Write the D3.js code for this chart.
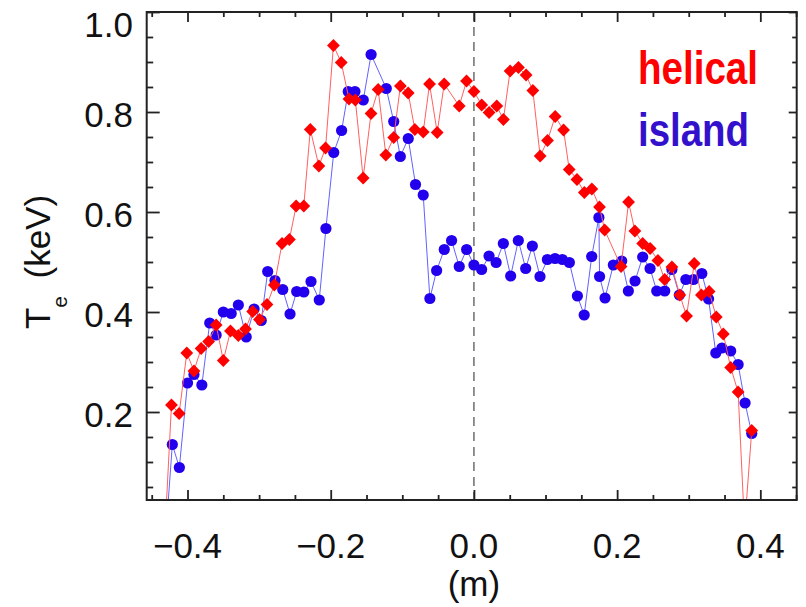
<!DOCTYPE html>
<html>
<head>
<meta charset="utf-8">
<script src="https://cdn.jsdelivr.net/npm/d3@7"></script>
<style>
  html, body { margin: 0; padding: 0; background: #fff; }
  svg { display: block; }
  text { font-family: "Liberation Sans", Arial, sans-serif; }
</style>
</head>
<body>
<div id="chart"></div>
<script>
// ---- data ----
const helicalR = [-0.4315, -0.4224, -0.4117, -0.401, -0.391, -0.381, -0.3705, -0.360, -0.350, -0.340,
  -0.329, -0.319, -0.309, -0.2995, -0.289, -0.2787, -0.268, -0.2577, -0.2483, -0.2376,
  -0.2285, -0.2165, -0.2072, -0.1962, -0.1853, -0.1745, -0.1656, -0.1547, -0.1437, -0.1337,
  -0.1230, -0.1120, -0.1027, -0.0918, -0.0825, -0.0708, -0.0620, -0.0513, -0.0415, -0.0205,
  -0.0103, 0.0, 0.0109, 0.0212, 0.0319, 0.0412, 0.0505, 0.0622, 0.0729, 0.0823,
  0.0925, 0.1028, 0.1135, 0.1252, 0.1331, 0.1439, 0.1542, 0.1647, 0.1754, 0.1826,
  0.2055, 0.2160, 0.2248, 0.2357, 0.2461, 0.2570, 0.2664, 0.2765, 0.2876, 0.2970,
  0.3077, 0.3177, 0.3285, 0.3385, 0.3483, 0.3586, 0.3690, 0.3780, 0.3880];
const helicalTe = [-0.04, 0.214, 0.197, 0.318, 0.282, 0.327, 0.341, 0.374, 0.303, 0.362,
  0.353, 0.366, 0.401, 0.385, 0.415, 0.454, 0.537, 0.545, 0.612, 0.612,
  0.765, 0.692, 0.728, 0.933, 0.899, 0.826, 0.824, 0.668, 0.797, 0.845,
  0.714, 0.749, 0.852, 0.838, 0.765, 0.760, 0.856, 0.759, 0.856, 0.812,
  0.862, 0.841, 0.814, 0.799, 0.812, 0.785, 0.882, 0.889, 0.874, 0.843,
  0.712, 0.743, 0.791, 0.764, 0.685, 0.665, 0.639, 0.646, 0.610, 0.564,
  0.491, 0.620, 0.562, 0.537, 0.527, 0.503, 0.465, 0.490, 0.434, 0.392,
  0.497, 0.434, 0.441, 0.390, 0.356, 0.289, 0.240, -0.03, 0.163];

const islandR = [-0.4300, -0.4212, -0.4114, -0.400, -0.391, -0.380, -0.369, -0.360, -0.350, -0.339,
  -0.329, -0.318, -0.307, -0.297, -0.288, -0.2778, -0.267, -0.2568, -0.2475, -0.2375,
  -0.2275, -0.216, -0.2067, -0.1958, -0.1848, -0.1755, -0.1662, -0.1545, -0.1436, -0.1224,
  -0.112, -0.1028, -0.0917, -0.0816, -0.0708, -0.0615, -0.0521, -0.0414, -0.0312, -0.0205,
  -0.0102, 0.0, 0.0108, 0.0211, 0.031, 0.0411, 0.0513, 0.062, 0.0723, 0.0816,
  0.0923, 0.1026, 0.1133, 0.1235, 0.1333, 0.1445, 0.1540, 0.1645, 0.1745, 0.1755,
  0.1831, 0.1947, 0.2064, 0.2157, 0.2250, 0.2357, 0.2460, 0.2553, 0.2665, 0.2765,
  0.2869, 0.2960, 0.3067, 0.3183, 0.3277, 0.3378, 0.3464, 0.3586, 0.3690, 0.3787,
  0.3880];
const islandTe = [-0.04, 0.135, 0.089, 0.258, 0.275, 0.254, 0.378, 0.354, 0.400, 0.397,
  0.414, 0.350, 0.406, 0.383, 0.481, 0.463, 0.445, 0.396, 0.441, 0.440,
  0.461, 0.424, 0.567, 0.719, 0.763, 0.841, 0.841, 0.824, 0.915, 0.847,
  0.781, 0.711, 0.747, 0.655, 0.634, 0.427, 0.483, 0.525, 0.543, 0.491,
  0.525, 0.494, 0.485, 0.512, 0.499, 0.537, 0.472, 0.543, 0.487, 0.532,
  0.471, 0.505, 0.507, 0.505, 0.499, 0.432, 0.394, 0.511, 0.589, 0.471,
  0.428, 0.494, 0.502, 0.442, 0.462, 0.510, 0.487, 0.442, 0.442, 0.485,
  0.434, 0.465, 0.465, 0.477, 0.426, 0.318, 0.328, 0.322, 0.295, 0.218,
  0.157];

const xMajorTicks = [-0.4, -0.2, 0.0, 0.2, 0.4];
const xMinorTicks = [-0.45, -0.35, -0.3, -0.25, -0.15, -0.1, -0.05, 0.05, 0.1, 0.15, 0.25, 0.3, 0.35, 0.45];
const yMajorTicks = [0.2, 0.4, 0.6, 0.8, 1.0];
const yMinorTicks = [0.05, 0.1, 0.15, 0.25, 0.3, 0.35, 0.45, 0.5, 0.55, 0.65, 0.7, 0.75, 0.85, 0.9, 0.95];
const xDomain = [-0.457, 0.4508];
const yDomain = [0.024, 1.0];
const seriesNames = ["helical", "island"];

// ---- layout ----
const W = 806, H = 607;
const L = 146.7, R = 796.7, T = 12, B = 500;
const RED = "#ff0000", BLUE = "#2200ee", BLUE_TXT = "#3311cc";

const svg = d3.select("#chart").append("svg").attr("width", W).attr("height", H);

const x = d3.scaleLinear().domain(xDomain).range([L, R]);
const y = d3.scaleLinear().domain(yDomain).range([B, T]);

svg.append("defs").append("clipPath").attr("id", "plotclip")
  .append("rect").attr("x", L).attr("y", T).attr("width", R - L).attr("height", B - T);

// dashed zero line
svg.append("line")
  .attr("x1", x(0)).attr("x2", x(0)).attr("y1", T).attr("y2", B)
  .attr("stroke", "#777").attr("stroke-width", 1.6).attr("stroke-dasharray", "9,6");

const plot = svg.append("g").attr("clip-path", "url(#plotclip)");

function drawSeries(xs, ys, color, lineColor, kind) {
  const pts = xs.map((v, i) => [v, ys[i]]);
  plot.append("path").datum(pts)
    .attr("fill", "none").attr("stroke", lineColor).attr("stroke-width", 1)
    .attr("d", d3.line().x(d => x(d[0])).y(d => y(d[1])));
  const g = plot.append("g");
  if (kind === "circle") {
    g.selectAll("circle").data(pts).join("circle")
      .attr("cx", d => x(d[0])).attr("cy", d => y(d[1])).attr("r", 5.6)
      .attr("fill", color);
  } else {
    const sym = d3.symbol().type(d3.symbolSquare).size(82);
    g.selectAll("path").data(pts).join("path")
      .attr("d", sym)
      .attr("transform", d => `translate(${x(d[0])},${y(d[1])}) rotate(45)`)
      .attr("fill", color);
  }
}
drawSeries(islandR, islandTe, BLUE, "#6262ff", "circle");
drawSeries(helicalR, helicalTe, RED, "#ff6060", "diamond");

// ---- axes ----
const axisColor = "#222";
function styleAxis(g) {
  g.select(".domain").remove();
  g.selectAll("line").attr("stroke", axisColor).attr("stroke-width", 1.8);
}
const fmt = d => (d < 0 ? "\u2212" : "") + Math.abs(d).toFixed(1);

svg.append("g").attr("transform", `translate(0,${B})`)
  .call(d3.axisBottom(x).tickValues(xMajorTicks).tickSize(-10).tickFormat(""))
  .call(styleAxis);
svg.append("g").attr("transform", `translate(0,${B})`)
  .call(d3.axisBottom(x).tickValues(xMinorTicks).tickSize(-5).tickFormat(""))
  .call(styleAxis);
svg.append("g").attr("transform", `translate(0,${T})`)
  .call(d3.axisTop(x).tickValues(xMajorTicks).tickSize(-10).tickFormat(""))
  .call(styleAxis);
svg.append("g").attr("transform", `translate(0,${T})`)
  .call(d3.axisTop(x).tickValues(xMinorTicks).tickSize(-5).tickFormat(""))
  .call(styleAxis);
svg.append("g").attr("transform", `translate(${L},0)`)
  .call(d3.axisLeft(y).tickValues(yMajorTicks).tickSize(-13).tickFormat(""))
  .call(styleAxis);
svg.append("g").attr("transform", `translate(${L},0)`)
  .call(d3.axisLeft(y).tickValues(yMinorTicks).tickSize(-6.5).tickFormat(""))
  .call(styleAxis);
svg.append("g").attr("transform", `translate(${R},0)`)
  .call(d3.axisRight(y).tickValues(yMajorTicks).tickSize(-8).tickFormat(""))
  .call(styleAxis);
svg.append("g").attr("transform", `translate(${R},0)`)
  .call(d3.axisRight(y).tickValues(yMinorTicks).tickSize(-4.5).tickFormat(""))
  .call(styleAxis);

// frame
svg.append("rect").attr("x", L).attr("y", T).attr("width", R - L).attr("height", B - T)
  .attr("fill", "none").attr("stroke", axisColor).attr("stroke-width", 2);

// tick labels
svg.append("g").selectAll("text").data(xMajorTicks).join("text")
  .attr("x", d => x(d)).attr("y", 558)
  .attr("text-anchor", "middle").attr("font-size", 35).attr("fill", "#111")
  .text(fmt);
svg.append("g").selectAll("text").data(yMajorTicks).join("text")
  .attr("x", 133).attr("y", d => d === 1.0 ? 37 : y(d) + 14.5)
  .attr("text-anchor", "end").attr("font-size", 35).attr("fill", "#111")
  .text(fmt);

// axis titles
svg.append("text").attr("x", x(0)).attr("y", 596)
  .attr("text-anchor", "middle").attr("font-size", 35).attr("fill", "#111").text("(m)");

const yt = svg.append("text")
  .attr("transform", "translate(50,262) rotate(-90)")
  .attr("text-anchor", "middle").attr("font-size", 35).attr("fill", "#111");
yt.append("tspan").text("T");
yt.append("tspan").attr("dy", 17).attr("font-size", 21).text("e");
yt.append("tspan").attr("dy", -17).text("\u2002(keV)");

// legend
svg.append("text").attr("x", 638).attr("y", 84)
  .attr("font-size", 47).attr("font-weight", "bold").attr("fill", RED)
  .attr("textLength", 120).attr("lengthAdjust", "spacingAndGlyphs")
  .text(seriesNames[0]);
svg.append("text").attr("x", 638).attr("y", 146)
  .attr("font-size", 47).attr("font-weight", "bold").attr("fill", BLUE_TXT)
  .attr("textLength", 111).attr("lengthAdjust", "spacingAndGlyphs")
  .text(seriesNames[1]);
</script>
</body>
</html>
